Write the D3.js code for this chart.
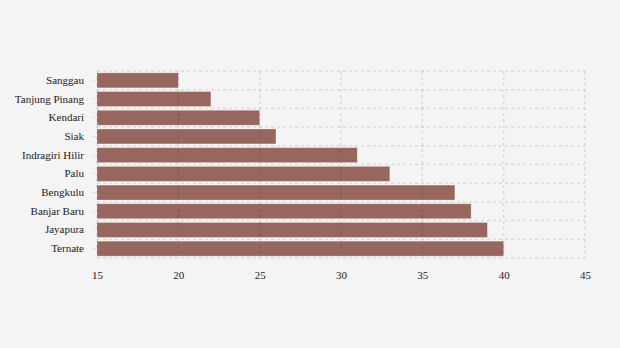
<!DOCTYPE html>
<html>
<head>
<meta charset="utf-8">
<script src="https://cdn.jsdelivr.net/npm/d3@7/dist/d3.min.js"></script>
<style>
  html, body { margin: 0; padding: 0; background: #f4f4f4; }
  svg { display: block; }
</style>
</head>
<body>
<div id="chart"></div>
<script>
// Cities and their values
const categories = ["Sanggau", "Tanjung Pinang", "Kendari", "Siak", "Indragiri Hilir",
                    "Palu", "Bengkulu", "Banjar Baru", "Jayapura", "Ternate"];
const values = [20, 22, 25, 26, 31, 33, 37, 38, 39, 40];
const xTicks = [15, 20, 25, 30, 35, 40, 45];

const FONT = "Liberation Serif";

const width = 620, height = 348;
const margin = { top: 71, right: 35, bottom: 90, left: 97 };
const innerW = width - margin.left - margin.right;
const innerH = height - margin.top - margin.bottom;

const svg = d3.select("#chart").append("svg")
  .attr("width", width).attr("height", height)
  .attr("font-family", FONT);

svg.append("rect").attr("width", width).attr("height", height).attr("fill", "#f4f4f4");

const g = svg.append("g").attr("transform", `translate(${margin.left},${margin.top})`);

const x = d3.scaleLinear().domain([15, 45]).range([0, innerW]);
const y = d3.scaleBand().domain(categories).range([0, innerH]).paddingInner(0.2).paddingOuter(0.1);

const gridColor = "rgba(0,0,0,0.1)";

// Bars
g.selectAll("rect.bar").data(categories).enter().append("rect")
  .attr("class", "bar")
  .attr("x", x(15))
  .attr("y", d => y(d))
  .attr("width", (d, i) => x(values[i]) - x(15))
  .attr("height", y.bandwidth())
  .attr("fill", "#97665e")
  .attr("stroke", "rgba(255,255,255,0.35)")
  .attr("stroke-width", 0.8);

// Horizontal grid at band boundaries
const step = y.step();
const boundaries = d3.range(categories.length + 1).map(i => i * step);
g.selectAll("line.hgrid").data(boundaries).enter().append("line")
  .attr("class", "hgrid")
  .attr("x1", 0).attr("x2", innerW)
  .attr("y1", d => d).attr("y2", d => d)
  .attr("stroke", gridColor).attr("stroke-width", 1.5)
  .attr("stroke-dasharray", "3,3");

// Vertical grid at ticks
g.selectAll("line.vgrid").data(xTicks).enter().append("line")
  .attr("class", "vgrid")
  .attr("x1", d => x(d)).attr("x2", d => x(d))
  .attr("y1", 0).attr("y2", innerH)
  .attr("stroke", gridColor).attr("stroke-width", 1.5)
  .attr("stroke-dasharray", "3,3");

// Y axis
const yAxis = g.append("g").call(d3.axisLeft(y).tickSize(5).tickPadding(8));
yAxis.attr("font-family", FONT).attr("font-size", 11);
yAxis.select(".domain").remove();
yAxis.selectAll(".tick line").attr("stroke", "#e2e2e2");
yAxis.selectAll(".tick text")
  .style("font-family", FONT).style("font-size", "11px").attr("fill", "#222");

// X axis
const xAxis = g.append("g").attr("transform", `translate(0,${innerH})`)
  .call(d3.axisBottom(x).tickValues(xTicks).tickSize(0).tickPadding(13));
xAxis.attr("font-family", FONT).attr("font-size", 11);
xAxis.select(".domain").remove();
xAxis.selectAll(".tick text")
  .style("font-family", FONT).style("font-size", "11px").attr("fill", "#222");
</script>
</body>
</html>
